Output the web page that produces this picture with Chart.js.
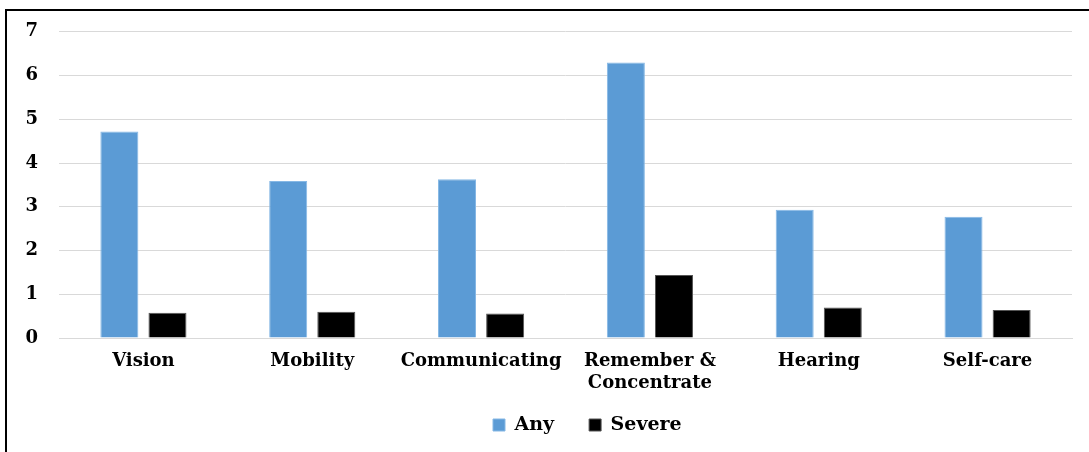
<!DOCTYPE html>
<html>
<head>
<meta charset="utf-8">
<script src="https://cdn.jsdelivr.net/npm/chart.js@4/dist/chart.umd.min.js"></script>
<style>
  html, body { margin: 0; padding: 0; background: #fff; }
  #wrap { position: relative; width: 1089px; height: 452px; overflow: hidden; }
  #frame { position: absolute; left: 5px; top: 9px; width: 1200px; height: 600px;
           border-left: 2px solid #000; border-top: 2px solid #000; box-sizing: border-box; }
  canvas { position: absolute; left: 0; top: 0; }
</style>
</head>
<body>
<div id="wrap">
  <canvas id="c" width="1089" height="452"></canvas>
  <div id="frame"></div>
</div>
<script>
// Difficulty categories and the two prevalence series (percent)
const categories = ['Vision', 'Mobility', 'Communicating', ['Remember &', 'Concentrate'], 'Hearing', 'Self-care'];
const anyDifficulty = [4.72, 3.59, 3.63, 6.30, 2.93, 2.77];
const severeDifficulty = [0.58, 0.60, 0.56, 1.44, 0.70, 0.64];
const yTicks = [0, 1, 2, 3, 4, 5, 6, 7];

const AXIS_FONT = { family: '"DejaVu Serif", serif', weight: 'bold', size: 18 };
const LEGEND_FONT = { family: '"DejaVu Serif", serif', weight: 'bold', size: 19 };

// Places the legend row below the category labels, starting at a fixed x
const legendPlacement = {
  id: 'legendPlacement',
  afterLayout(chart) {
    const lg = chart.legend;
    const pad = lg.options.labels.padding;
    const startX = (lg.left + pad + lg.right - lg.lineWidths[0]) / 2;
    const dx = 493 - startX;
    const dy = (425 - pad - 9.5) - lg.top;
    lg.left += dx; lg.right += dx;
    lg.top += dy; lg.bottom += dy;
  }
};

new Chart(document.getElementById('c'), {
  type: 'bar',
  data: {
    labels: categories,
    datasets: [
      { label: 'Any', data: anyDifficulty, backgroundColor: '#5B9BD5', borderColor: '#86B8E5', borderWidth: 1,
        barPercentage: 0.79, categoryPercentage: 0.57 },
      { label: 'Severe', data: severeDifficulty, backgroundColor: '#000000', borderColor: '#555555', borderWidth: 1,
        barPercentage: 0.79, categoryPercentage: 0.57 }
    ]
  },
  plugins: [legendPlacement],
  options: {
    responsive: false,
    animation: false,
    layout: { padding: { left: 0, right: 17, top: 28, bottom: 0 } },
    plugins: {
      tooltip: { enabled: false },
      legend: {
        position: 'bottom',
        labels: { font: LEGEND_FONT, color: '#000', boxWidth: 12, boxHeight: 12, padding: 35 }
      }
    },
    scales: {
      x: {
        afterFit: s => { s.height = 50; },
        grid: { display: false, drawTicks: false },
        border: { display: true, color: '#D9D9D9', width: 1 },
        ticks: { font: AXIS_FONT, color: '#000', padding: 13, maxRotation: 0, autoSkip: false }
      },
      y: {
        min: 0, max: 7,
        afterBuildTicks: s => { s.ticks = yTicks.map(v => ({ value: v })); },
        afterFit: s => { s.width = 59; },
        grid: { color: '#D9D9D9', lineWidth: 1, drawTicks: false },
        border: { display: false },
        ticks: { font: AXIS_FONT, color: '#000', padding: 21 }
      }
    }
  }
});
</script>
</body>
</html>
